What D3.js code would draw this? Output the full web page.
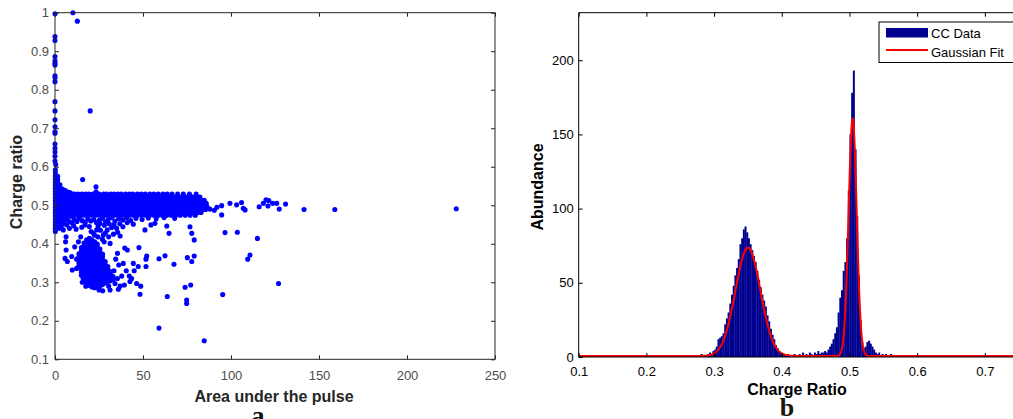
<!DOCTYPE html>
<html><head><meta charset="utf-8">
<script src="https://cdn.jsdelivr.net/npm/d3@7"></script>
<style>body{margin:0;background:#fff;}svg{display:block;}</style>
</head><body>
<svg id="c" width="1013" height="419"></svg>
<script>
// ================= DATA =================
// --- panel a: scatter (Area under the pulse vs Charge ratio)
const scatterXTicks = [0, 50, 100, 150, 200, 250];
const scatterYTicks = [0.1, 0.2, 0.3, 0.4, 0.5, 0.6, 0.7, 0.8, 0.9, 1];
// dense band near ratio 0.5 (rows: ratio, areas)
const bandRows = [
  [0.529, "11.2 13.1 15.3 17.4 19.2 21.5 23.4 25.1 27.6 29.3 31.7 33.5 35.8 37.6 40.1 42.3 44.2 46.8 49.0 51.3 53.9 56.2 58.7 61.4 63.8 66.5 69.7 72.9 76.4 80.2"],
  [0.521, "10.9 12.8 14.7 16.6 18.5 20.4 22.4 24.3 26.2 28.1 30.0 31.9 33.9 35.8 37.7 39.6 41.6 43.5 45.4 47.3 49.3 51.2 53.1 55.0 57.0 58.9 60.8 62.7 64.7 66.6 68.5 70.4 72.4 74.3 76.2 78.1 80.1 82.3"],
  [0.513, "11.8 13.7 15.6 17.5 19.4 21.4 23.3 25.2 27.1 29.1 31.0 32.9 34.8 36.8 38.7 40.6 42.5 44.5 46.4 48.3 50.2 52.2 54.1 56.0 57.9 59.9 61.8 63.7 65.6 67.6 69.5 71.4 73.3 75.3 77.2 79.1 81.0 83.0 84.8"],
  [0.505, "10.9 12.8 14.7 16.6 18.5 20.4 22.4 24.3 26.2 28.1 30.0 31.9 33.9 35.8 37.7 39.6 41.6 43.5 45.4 47.3 49.3 51.2 53.1 55.0 57.0 58.9 60.8 62.7 64.7 66.6 68.5 70.4 72.4 74.3 76.2 78.1 80.1 82.3 84.1 85.9"],
  [0.497, "11.8 13.7 15.6 17.5 19.4 21.4 23.3 25.2 27.1 29.1 31.0 32.9 34.8 36.8 38.7 40.6 42.5 44.5 46.4 48.3 50.2 52.2 54.1 56.0 57.9 59.9 61.8 63.7 65.6 67.6 69.5 71.4 73.3 75.3 77.2 79.1 81.0 83.0 84.8 86.3"],
  [0.489, "10.9 12.8 14.7 16.6 18.5 20.4 22.4 24.3 26.2 28.1 30.0 31.9 33.9 35.8 37.7 39.6 41.6 43.5 45.4 47.3 49.3 51.2 53.1 55.0 57.0 58.9 60.8 62.7 64.7 66.6 68.5 70.4 72.4 74.3 76.2 78.1 80.1 82.3 84.1 85.6"],
  [0.481, "11.8 13.7 15.6 17.5 19.4 21.4 23.3 25.2 27.1 29.1 31.0 32.9 34.8 36.8 38.7 40.6 42.5 44.5 46.4 48.3 50.2 52.2 54.1 56.0 57.9 59.9 61.8 63.7 65.6 67.6 69.5 71.4 73.3 75.3 77.2 79.1 81.0 83.0"],
  [0.474, "12.3 14.4 16.5 18.6 20.8 22.9 25.0 27.2 29.3 31.5 33.6 35.8 38.0 40.2 42.4 44.6 46.9 49.2 51.5 53.8 56.2 58.6 61.0 63.5 66.0 68.6 71.2 74.0 76.8 79.7"]
];
// small-area columns (area, ratios)
const edgeColumns = [
  [0.2, "0.432 0.440 0.448 0.456 0.464 0.472 0.480 0.488 0.496 0.504 0.512 0.520 0.528 0.536 0.544 0.552 0.560 0.568 0.576 0.584 0.592"],
  [1.5, "0.445 0.455 0.463 0.471 0.479 0.487 0.495 0.503 0.511 0.519 0.527 0.535 0.543 0.551 0.559 0.567 0.575"],
  [2.8, "0.452 0.466 0.474 0.482 0.490 0.498 0.506 0.514 0.522 0.530 0.538 0.546 0.553"],
  [4.2, "0.458 0.470 0.478 0.486 0.494 0.502 0.510 0.518 0.526 0.534 0.542"],
  [5.6, "0.462 0.476 0.484 0.492 0.500 0.508 0.516 0.524 0.532 0.539"],
  [7.0, "0.468 0.478 0.486 0.494 0.502 0.510 0.518 0.526 0.535"],
  [8.5, "0.472 0.480 0.488 0.496 0.504 0.512 0.520 0.528 0.533"],
  [10.0, "0.470 0.481 0.489 0.497 0.505 0.513 0.521 0.529"]
];
// cluster near ratio 0.35 (area, ratios)
const clusterColumns = [
  [13.6, "0.342 0.350 0.358 0.366 0.374"],
  [15.0, "0.318 0.326 0.334 0.342 0.350 0.358 0.366 0.374 0.382 0.390"],
  [16.5, "0.306 0.314 0.322 0.330 0.338 0.346 0.354 0.362 0.370 0.378 0.386 0.394 0.402"],
  [18.0, "0.298 0.306 0.314 0.322 0.330 0.338 0.346 0.354 0.362 0.370 0.378 0.386 0.394 0.402 0.410"],
  [19.5, "0.292 0.300 0.308 0.316 0.324 0.332 0.340 0.348 0.356 0.364 0.372 0.380 0.388 0.396 0.404 0.414"],
  [21.0, "0.288 0.296 0.304 0.312 0.320 0.328 0.336 0.344 0.352 0.360 0.368 0.376 0.384 0.392 0.400 0.410"],
  [22.5, "0.286 0.294 0.302 0.310 0.318 0.326 0.334 0.342 0.350 0.358 0.366 0.374 0.382 0.390 0.398 0.405"],
  [24.0, "0.288 0.296 0.304 0.312 0.320 0.328 0.336 0.344 0.352 0.360 0.368 0.376 0.384 0.392 0.399"],
  [25.5, "0.290 0.298 0.306 0.314 0.322 0.330 0.338 0.346 0.354 0.362 0.370 0.378 0.386"],
  [27.0, "0.294 0.302 0.310 0.318 0.326 0.334 0.342 0.350 0.358 0.366 0.373"],
  [28.5, "0.298 0.306 0.314 0.322 0.330 0.338 0.346 0.354"],
  [30.0, "0.302 0.310 0.318 0.326 0.334 0.341"],
  [31.5, "0.304 0.312 0.320 0.328"],
  [33.0, "0.307 0.315"]
];
// isolated points [area, ratio]
const scatterPoints = [
  [0,0.997],[0,0.938],[0,0.928],[0,0.886],[0,0.875],[0,0.869],[0,0.864],[0,0.836],[0,0.831],[0,0.821],
  [0,0.769],[0,0.745],[0,0.722],[0,0.704],[0,0.691],[0,0.687],[0,0.659],[0,0.648],[0,0.638],[0,0.627],
  [0,0.615],[0.4,0.606],[10.2,1.0],[12.7,0.978],[20,0.745],[15.7,0.567],[23.3,0.548],[23.3,0.535],
  [2.5,0.44],[3.5,0.445],[5.2,0.452],[6.8,0.449],[8.2,0.44],[8.0,0.458],[9.5,0.455],[10.6,0.447],[11.0,0.462],
  [12.0,0.438],[12.5,0.458],[13.8,0.466],[15.5,0.46],[17.2,0.456],[18.6,0.465],[20.3,0.459],[22.0,0.463],
  [23.5,0.455],[25.1,0.461],[27.0,0.466],[28.7,0.457],[30.2,0.463],[32.1,0.468],[34.0,0.459],[36.2,0.465],
  [38.5,0.462],[40.8,0.468],[43.0,0.46],[46.0,0.466],[49.5,0.463],[53.0,0.467],[57.5,0.465],[62.0,0.468],
  [68.0,0.466],[4.7,0.436],[6.3,0.418],[6.0,0.405],[15.2,0.443],[17,0.449],[21.8,0.427],[23.7,0.436],
  [26.9,0.412],[27.5,0.423],[31.3,0.401],[29.7,0.436],[32.2,0.442],[35,0.44],[25.6,0.453],[19.5,0.445],
  [24.5,0.445],[28.0,0.448],[30.8,0.452],[33.5,0.45],[36.8,0.452],[38.6,0.444],[41.0,0.455],[44.5,0.451],
  [20.5,0.432],[25.8,0.435],[28.6,0.428],[30.5,0.418],[33.2,0.425],[35.6,0.43],[37.0,0.42],[27.9,0.405],
  [24.4,0.418],[22.5,0.422],[13.3,0.405],[14.6,0.418],[11.2,0.392],[9.5,0.367],[7,0.354],[5.7,0.362],
  [6.3,0.384],[9.8,0.332],[12.3,0.336],[12.3,0.36],
  [36.2,0.345],[38.8,0.349],[41.1,0.384],[39.6,0.389],[42.2,0.316],[37.9,0.316],[42.6,0.302],[46.4,0.297],
  [39.4,0.293],[31.3,0.28],[27.1,0.278],[36,0.282],[34.1,0.297],[44.5,0.349],[45,0.33],[47.3,0.341],
  [47.7,0.39],[48.7,0.29],[48.3,0.269],[35.5,0.31],[33.5,0.33],[34.5,0.36],[30.5,0.29],[25.0,0.28],
  [17.5,0.29],[15.5,0.3],[16.0,0.31],[35.5,0.375],[37,0.29],[40.5,0.33],[43.5,0.31],
  [51.1,0.436],[54.5,0.449],[56.8,0.453],[63.5,0.446],[64.8,0.427],[76.7,0.444],[77.7,0.427],[79.1,0.41],
  [62.5,0.369],[59.1,0.361],[67.6,0.347],[75.2,0.364],[77.7,0.354],[79.1,0.368],[52.1,0.368],[51.7,0.36],
  [51.7,0.341],[63.8,0.263],[74.8,0.254],[74.8,0.245],[73.9,0.287],[77.1,0.293],[59.1,0.181],[84.8,0.148],
  [96.6,0.429],[103.6,0.43],[115,0.414],[110.8,0.371],[109.5,0.36],[127,0.297],[95.3,0.268],[94.7,0.475],
  [88,0.49],[90.5,0.487],[92,0.495],[94.7,0.499],[99.4,0.505],[103.2,0.501],[106,0.507],[107,0.492],
  [108,0.488],[116,0.496],[118.4,0.505],[119.9,0.514],[121,0.498],[121.5,0.512],[123.7,0.505],[126,0.505],
  [127.4,0.49],[131,0.503],[141.5,0.489],[159,0.489],[228,0.491]
];

// --- panel b: histogram of charge ratio
const histXTicks = [0.1, 0.2, 0.3, 0.4, 0.5, 0.6, 0.7];
const histYTicks = [0, 50, 100, 150, 200];
const histBinStart = 0.1;
const histBinWidth = 0.0025;
const histCounts = [
  0,0,0,0,0,0,0,0,0,0,  0,0,0,0,0,0,0,0,0,1,
  0,0,0,0,0,0,0,0,1,0,  0,0,0,0,0,0,0,0,0,0,
  0,0,0,0,0,0,0,0,0,0,  0,0,1,0,0,0,0,0,0,1,
  0,1,0,0,0,1,0,1,0,0,  1,0,2,0,1,1,2,3,2,4,
  5,7,12,13,14,16,22,26,30,36,  42,48,55,60,66,76,80,86,88,84,
  80,76,72,68,64,58,52,47,42,38,  34,28,24,19,15,12,8,6,4,3,
  2,2,1,2,1,0,1,2,1,0,  2,1,3,1,2,1,3,2,1,3,
  2,4,2,3,3,4,3,5,7,9,  12,16,20,30,40,45,58,64,80,112,
  150,178,193,140,95,55,25,10,6,7,  10,11,9,7,5,3,2,3,1,2,
  1,2,1,1,2,1,0,1,1,0,  1,0,1,0,0,1,0,0,1,0,
  0,1,0,0,0,0,1,0,0,0,  1,0,0,0,0,1,0,0,0,0,
  0,0,1,0,0,0,0,0,1,0,  0,0,0,1,0,0,0,0,0,0,
  1,0,0,0,0,0,0,1,0,0,  0,0,1,0,0,0,0,0,0,0
];
// Gaussian fit parameters (two components)
const fitAmp = [73, 160];
const fitMean = [0.350, 0.5047];
const fitSigma = [0.0184, 0.0060];
const legendLabels = ["CC Data", "Gaussian Fit"];

// ================= DRAW =================
const svg = d3.select("#c");
const sans = "Arial, 'Liberation Sans', Helvetica, sans-serif";

// ---------- panel a ----------
const xS = d3.scaleLinear().domain([0, 250]).range([55, 495]);
const yS = d3.scaleLinear().domain([0.1, 1]).range([359.3, 12.7]);
const gA = svg.append("g");

const pts = [];
bandRows.forEach(([y, s]) => s.split(/\s+/).map(Number).forEach(x => pts.push([x, y])));
edgeColumns.forEach(([x, s]) => s.split(/\s+/).map(Number).forEach(y => pts.push([x, y])));
clusterColumns.forEach(([x, s]) => s.split(/\s+/).map(Number).forEach(y => pts.push([x, y])));
scatterPoints.forEach(p => pts.push(p));

gA.append("g").selectAll("circle").data(pts).join("circle")
  .attr("cx", d => xS(d[0])).attr("cy", d => yS(d[1])).attr("r", 2.55)
  .attr("fill", "#0000ff");

const axA = "#262626";
function styleAxis(g, color, fontSize, fontColor) {
  g.select(".domain").remove();
  g.selectAll(".tick line").attr("stroke", color);
  g.selectAll(".tick text").attr("fill", fontColor).style("font-family", sans).style("font-size", fontSize + "px");
}
gA.append("g").attr("transform", "translate(0,359.3)")
  .call(d3.axisBottom(xS).tickValues(scatterXTicks).tickSize(-4).tickPadding(11).tickFormat(d3.format("d")))
  .call(g => styleAxis(g, axA, 13, "#4d4d4d"));
gA.append("g").attr("transform", "translate(0,12.7)")
  .call(d3.axisTop(xS).tickValues(scatterXTicks).tickSize(-4).tickFormat(""))
  .call(g => styleAxis(g, axA, 13, "#4d4d4d"));
gA.append("g").attr("transform", "translate(55,0)")
  .call(d3.axisLeft(yS).tickValues(scatterYTicks).tickSize(-4).tickPadding(6).tickFormat(d => d3.format("~g")(d)))
  .call(g => styleAxis(g, axA, 13, "#4d4d4d"));
gA.append("g").attr("transform", "translate(495,0)")
  .call(d3.axisRight(yS).tickValues(scatterYTicks).tickSize(-4).tickFormat(""))
  .call(g => styleAxis(g, axA, 13, "#4d4d4d"));
gA.append("rect").attr("x", 55).attr("y", 12.7).attr("width", 440).attr("height", 346.6)
  .attr("fill", "none").attr("stroke", axA).attr("stroke-width", 1);

gA.append("text").attr("x", 274).attr("y", 402).attr("text-anchor", "middle")
  .style("font-family", sans).style("font-size", "16px").style("font-weight", "bold").attr("fill", "#262626")
  .text("Area under the pulse");
gA.append("text").attr("transform", "translate(22,182) rotate(-90)").attr("text-anchor", "middle")
  .style("font-family", sans).style("font-size", "16px").style("font-weight", "bold").attr("fill", "#262626")
  .text("Charge ratio");
gA.append("text").attr("x", 258).attr("y", 424).attr("text-anchor", "middle")
  .style("font-family", "'Liberation Serif', 'Times New Roman', serif").style("font-size", "26px").style("font-weight", "bold").attr("fill", "#111")
  .text("a");

// ---------- panel b ----------
const xH = d3.scaleLinear().domain([0.1, 0.75]).range([578.7, 1018.7]);
const yH = d3.scaleLinear().domain([0, 232]).range([357, 12.7]);
const gB = svg.append("g");

const bins = histCounts.map((c, i) => ({ lo: histBinStart + i * histBinWidth, hi: histBinStart + (i + 1) * histBinWidth, c }))
  .filter(d => d.c > 0);
gB.append("g").selectAll("rect").data(bins).join("rect")
  .attr("x", d => xH(d.lo)).attr("width", d => xH(d.hi) - xH(d.lo) + 0.3)
  .attr("y", d => yH(d.c)).attr("height", d => yH(0) - yH(d.c))
  .attr("fill", "#00008f");

const fitX = d3.range(0.1, 0.7501, 0.0005);
const fitY = x => d3.sum(fitAmp.map((a, k) => a * Math.exp(-((x - fitMean[k]) ** 2) / (2 * fitSigma[k] ** 2))));
gB.append("path").datum(fitX)
  .attr("d", d3.line().x(x => xH(x)).y(x => yH(fitY(x)) - 1))
  .attr("fill", "none").attr("stroke", "#ff0000").attr("stroke-width", 2);

gB.append("g").attr("transform", "translate(0,357)")
  .call(d3.axisBottom(xH).tickValues(histXTicks).tickSize(-4).tickPadding(10).tickFormat(d3.format(".1f")))
  .call(g => styleAxis(g, "#000", 13, "#000"));
gB.append("g").attr("transform", "translate(0,12.7)")
  .call(d3.axisTop(xH).tickValues(histXTicks).tickSize(-4).tickFormat(""))
  .call(g => styleAxis(g, "#000", 13, "#000"));
gB.append("g").attr("transform", "translate(578.7,0)")
  .call(d3.axisLeft(yH).tickValues(histYTicks).tickSize(-4).tickPadding(5))
  .call(g => styleAxis(g, "#000", 13, "#000"));
gB.append("line").attr("x1", 578.7).attr("x2", 1013).attr("y1", 12.7).attr("y2", 12.7).attr("stroke", "#000");
gB.append("line").attr("x1", 578.7).attr("x2", 1013).attr("y1", 357).attr("y2", 357).attr("stroke", "#000");
gB.append("line").attr("x1", 578.7).attr("x2", 578.7).attr("y1", 12.7).attr("y2", 357).attr("stroke", "#000");

gB.append("text").attr("x", 797).attr("y", 395).attr("text-anchor", "middle")
  .style("font-family", sans).style("font-size", "16px").style("font-weight", "bold").attr("fill", "#000")
  .text("Charge Ratio");
gB.append("text").attr("transform", "translate(543,187) rotate(-90)").attr("text-anchor", "middle")
  .style("font-family", sans).style("font-size", "16px").style("font-weight", "bold").attr("fill", "#000")
  .text("Abundance");
gB.append("text").attr("x", 787).attr("y", 416).attr("text-anchor", "middle")
  .style("font-family", "'Liberation Serif', 'Times New Roman', serif").style("font-size", "26px").style("font-weight", "bold").attr("fill", "#1a1a0a")
  .text("b");

// legend
const lg = gB.append("g");
lg.append("rect").attr("x", 879).attr("y", 22).attr("width", 160).attr("height", 40.5)
  .attr("fill", "#fff").attr("stroke", "#000").attr("stroke-width", 1);
lg.append("rect").attr("x", 886).attr("y", 28).attr("width", 42).attr("height", 9.5).attr("fill", "#00008f");
lg.append("line").attr("x1", 886).attr("x2", 928).attr("y1", 50).attr("y2", 50).attr("stroke", "#ff0000").attr("stroke-width", 2);
lg.selectAll("text.lab").data(legendLabels).join("text").attr("class", "lab")
  .attr("x", 931).attr("y", (d, i) => 37.5 + i * 19)
  .style("font-family", sans).style("font-size", "13px").attr("fill", "#000")
  .text(d => d);
</script>
</body></html>
